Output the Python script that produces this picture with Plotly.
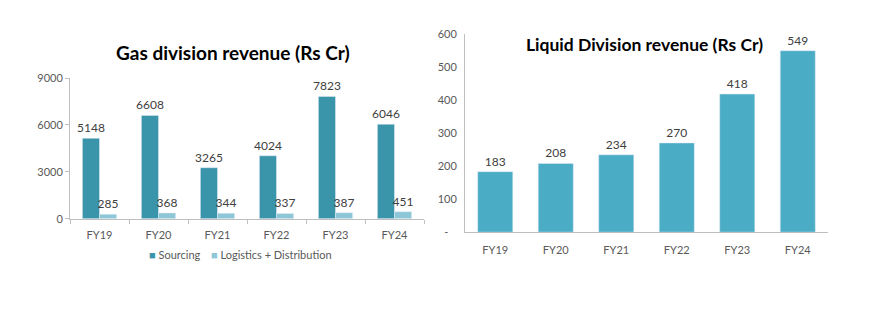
import plotly.graph_objects as go

years = ["FY19", "FY20", "FY21", "FY22", "FY23", "FY24"]
gas_sourcing = [5148, 6608, 3265, 4024, 7823, 6046]
gas_logistics = [285, 368, 344, 337, 387, 451]
liquid_revenue = [183, 208, 234, 270, 418, 549]
legend_names = ["Sourcing", "Logistics + Distribution"]

W, H = 873, 326
FONT = "Lato"
TICK_COLOR = "#595959"
LABEL_COLOR = "#404040"
AXIS_LINE = "#BFBFBF"
C_SRC = "#3A95AB"
C_LOG = "#8DC7D7"
C_LIQ = "#4BACC6"

fig = go.Figure()

for vals, name, col, xa, ya in [
    (gas_sourcing, legend_names[0], C_SRC, "x", "y"),
    (gas_logistics, legend_names[1], C_LOG, "x", "y"),
    (liquid_revenue, "Liquid", C_LIQ, "x2", "y2"),
]:
    fig.add_trace(go.Bar(
        x=years, y=vals, name=name, marker_color=col,
        text=[str(v) for v in vals], textposition="outside",
        textfont=dict(size=12, color=LABEL_COLOR, family=FONT),
        constraintext="none", cliponaxis=False,
        xaxis=xa, yaxis=ya, showlegend=False,
    ))

def px_x(p):
    return p / W

def px_y(p):
    return (H - p) / H

legend_ann = [
    dict(text=f"<span style='color:{C_SRC}'>■</span> {legend_names[0]}", x=px_x(147), y=px_y(258)),
    dict(text=f"<span style='color:{C_LOG}'>■</span> {legend_names[1]}", x=px_x(209), y=px_y(258)),
]
for a in legend_ann:
    a.update(xref="paper", yref="paper", xanchor="left", yanchor="middle",
             showarrow=False, font=dict(size=11, color=TICK_COLOR, family=FONT))

fig.update_layout(
    width=W, height=H, autosize=False,
    margin=dict(l=0, r=0, t=0, b=0),
    paper_bgcolor="white", plot_bgcolor="white",
    font=dict(family=FONT, color=TICK_COLOR, size=11),
    barmode="group", bargap=0.42, bargroupgap=0,
    showlegend=False,
    xaxis=dict(
        domain=[px_x(70), px_x(424)], anchor="y",
        showline=True, linecolor=AXIS_LINE, linewidth=1,
        ticks="outside", tickson="boundaries", ticklen=4, tickcolor=AXIS_LINE,
        ticklabelstandoff=6,
        showgrid=False, tickfont=dict(size=11, color=TICK_COLOR),
    ),
    yaxis=dict(
        domain=[px_y(220.5), px_y(74)], anchor="x",
        range=[0, 9000], tickvals=[0, 3000, 6000, 9000],
        showline=True, linecolor=AXIS_LINE, linewidth=1,
        ticks="outside", ticklen=4, tickcolor=AXIS_LINE,
        showgrid=False, zeroline=False, tickfont=dict(size=11, color=TICK_COLOR),
    ),
    xaxis2=dict(
        domain=[px_x(465), px_x(828)], anchor="y2",
        showline=True, linecolor=AXIS_LINE, linewidth=1,
        ticks="", ticklabelstandoff=8,
        showgrid=False, tickfont=dict(size=11, color=TICK_COLOR),
    ),
    yaxis2=dict(
        domain=[px_y(234.5), px_y(28)], anchor="x2",
        range=[0, 600], tickvals=[0, 100, 200, 300, 400, 500, 600],
        ticktext=["-\u00a0\u00a0\u00a0", "100", "200", "300", "400", "500", "600"],
        showline=True, linecolor=AXIS_LINE, linewidth=1,
        ticks="outside", ticklen=5, tickcolor="rgba(0,0,0,0)",
        showgrid=False, zeroline=False, tickfont=dict(size=11, color=TICK_COLOR),
    ),
    annotations=legend_ann + [
        dict(text="<b>Gas division revenue (Rs Cr)</b>", x=px_x(233), y=px_y(47),
             xref="paper", yref="paper", xanchor="center", yanchor="middle",
             showarrow=False, font=dict(size=19, color="#000000", family=FONT)),
        dict(text="<b>Liquid Division revenue (Rs Cr)</b>", x=px_x(644), y=px_y(39),
             xref="paper", yref="paper", xanchor="center", yanchor="middle",
             showarrow=False, font=dict(size=17.5, color="#000000", family=FONT)),
    ],
)

fig.write_html("out.html")
